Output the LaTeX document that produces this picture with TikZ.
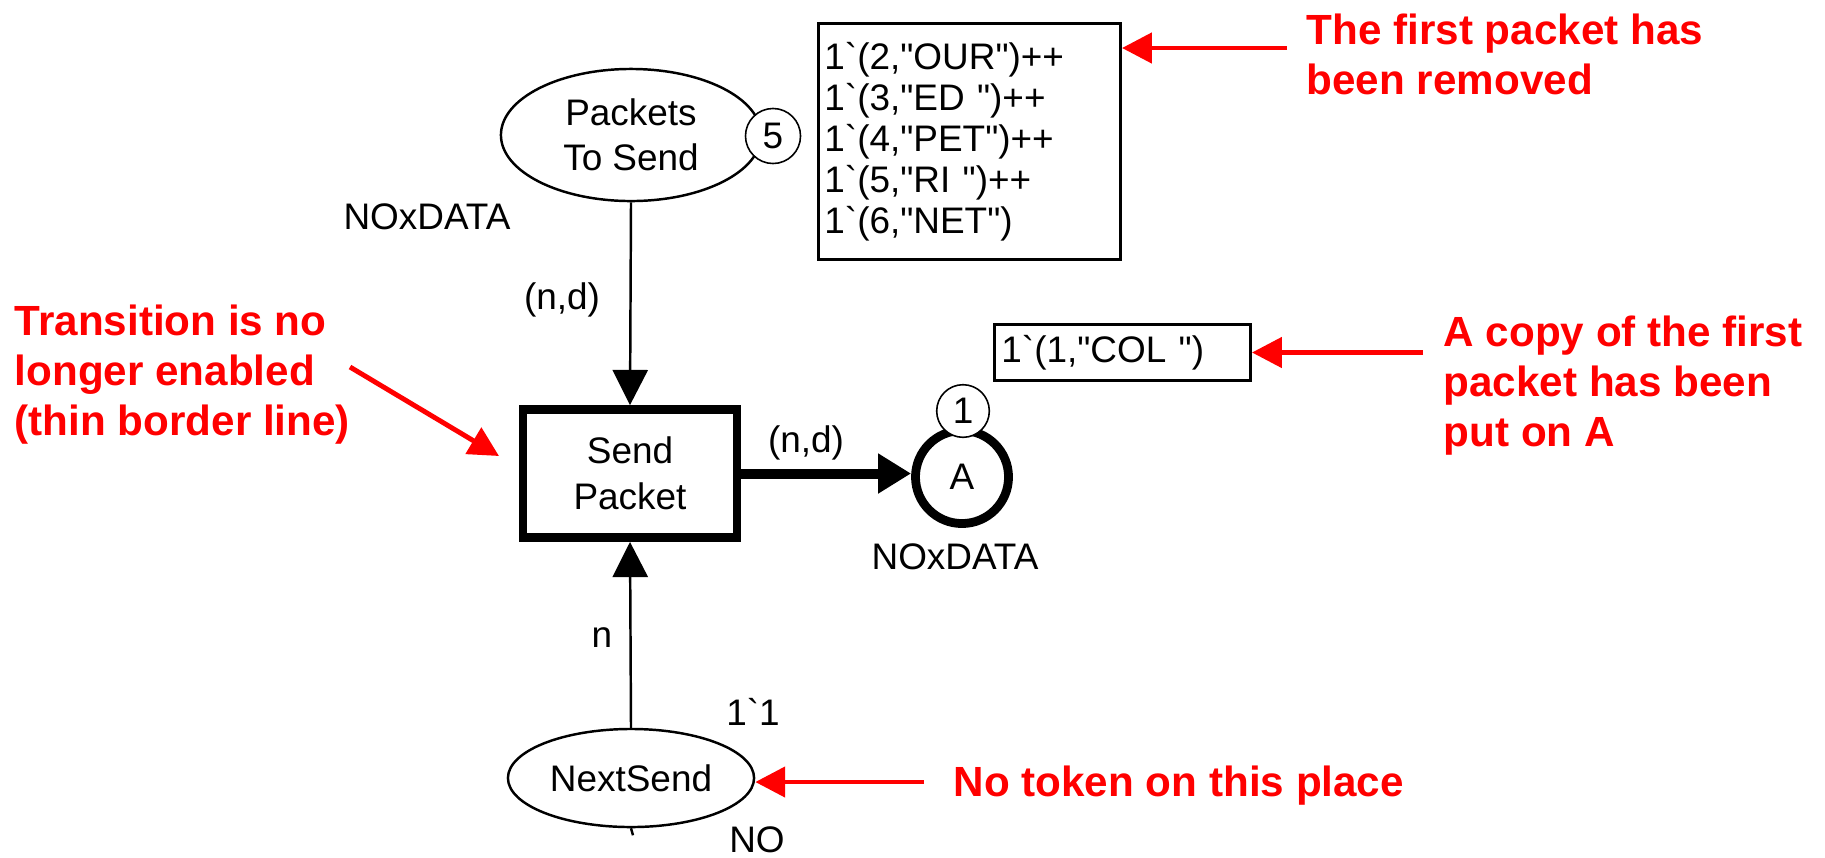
\documentclass[tikz,border=0pt]{standalone}
\usepackage{fontspec}
\setmainfont{Liberation Sans}[Ligatures=TeXOff]
\usetikzlibrary{arrows.meta,shapes.geometric}
\newcommand\bq{\symbol{96}}

\begin{document}
\begin{tikzpicture}[x=0.01cm,y=-0.01cm,
  lbl/.style={font=\fontsize{10.5pt}{12pt}\selectfont, inner sep=0},
  place/.style={ellipse, draw, line width=0.7pt, inner sep=0, align=center,
    font=\fontsize{10.5pt}{12.8pt}\selectfont},
  token/.style={circle, draw, fill=white, line width=0.45pt, inner sep=0,
    font=\fontsize{10.5pt}{12pt}\selectfont},
  trans/.style={rectangle, draw, line width=2.5pt, minimum width=2.14cm,
    minimum height=1.28cm, align=center, font=\fontsize{10.5pt}{13.1pt}\selectfont},
  markbox/.style={rectangle, draw, line width=0.8pt, align=left, inner ysep=0,
    font=\fontsize{10.5pt}{11.66pt}\selectfont},
  arc/.style={line width=0.7pt, -{Triangle[length=10pt,width=10pt]}},
  heavyarc/.style={line width=2.85pt, -{Triangle[length=9.4pt,width=10.8pt]}},
  note/.style={text=red, font=\bfseries\fontsize{12pt}{14.2pt}\selectfont,
    align=left, inner sep=0},
  pointer/.style={draw=red, line width=1.4pt, -{Triangle[length=8.5pt,width=8.5pt]}}
]
\useasboundingbox (0,0) rectangle (1825,857);

% places
\node[place, minimum width=2.60cm, minimum height=1.32cm] (pts) at (631,135) {Packets\\To Send};
\node[place, minimum width=2.46cm, minimum height=0.98cm] (ns) at (631,778) {NextSend};
\node[circle, draw, line width=2.5pt, minimum size=0.93cm, inner sep=0,
  font=\fontsize{10.5pt}{12pt}\selectfont] (A) at (962,477) {A};

% transition
\node[trans] (sp) at (630,473.5) {Send\\Packet};

% arcs
\draw[arc] (pts.south) -- (sp.north);
\draw[arc] (ns.north) -- (sp.south);
\draw[heavyarc] (sp.east) -- (sp.east -| A.west);
\draw[line width=0.7pt] (ns.south) -- ++(2,7);

% token counters
\node[token, minimum size=0.55cm] (t5) at (773,136) {5};
\node[token, minimum size=0.526cm] (t1) at (963,411) {1};

% markings
\node[markbox, minimum width=3.02cm, minimum height=2.36cm, text width=2.9cm,
  inner xsep=0.05cm] (mb) at (969.5,141.5)
  {1\bq(2,"OUR")++\\1\bq(3,"ED ")++\\1\bq(4,"PET")++\\1\bq(5,"RI ")++\\1\bq(6,"NET")};
\node[markbox, minimum width=2.56cm, minimum height=0.56cm, text width=2.42cm,
  inner xsep=0] (col) at (1122.5,352.5) {1\bq(1,"COL ")};

% inscriptions
\node[lbl] (ctype1) at (427,217) {NOxDATA};
\node[lbl] (ex1) at (562,300) {(n,d)};
\node[lbl] (ex2) at (806,443) {(n,d)};
\node[lbl] (ctype2) at (955,557) {NOxDATA};
\node[lbl] (ex3) at (602,638) {n};
\node[lbl] (init) at (753,712) {1\bq1};
\node[lbl] (ctype3) at (757,840) {NO};

% annotations
\node[note, anchor=north west] (n1) at (1306,13) {The first packet has\\been removed};
\node[note, anchor=north west] (n2) at (1443,315) {A copy of the first\\packet has been\\put on A};
\node[note, anchor=north west] (n3) at (14,304) {Transition is no\\longer enabled\\(thin border line)};
\node[note, anchor=base west] (n4) at (953,796) {No token on this place};

\coordinate (p1) at (1287,48);
\coordinate (p2) at (1423,352.5);
\coordinate (p3) at (350,367);
\coordinate (p3t) at (499,456);
\coordinate (p4) at (924,782);
\draw[pointer] (p1) -- (p1 -| mb.east);
\draw[pointer] (p2) -- (p2 -| col.east);
\draw[pointer] (p3) -- (p3t);
\draw[pointer] (p4) -- (p4 -| ns.east);
\end{tikzpicture}
\end{document}
